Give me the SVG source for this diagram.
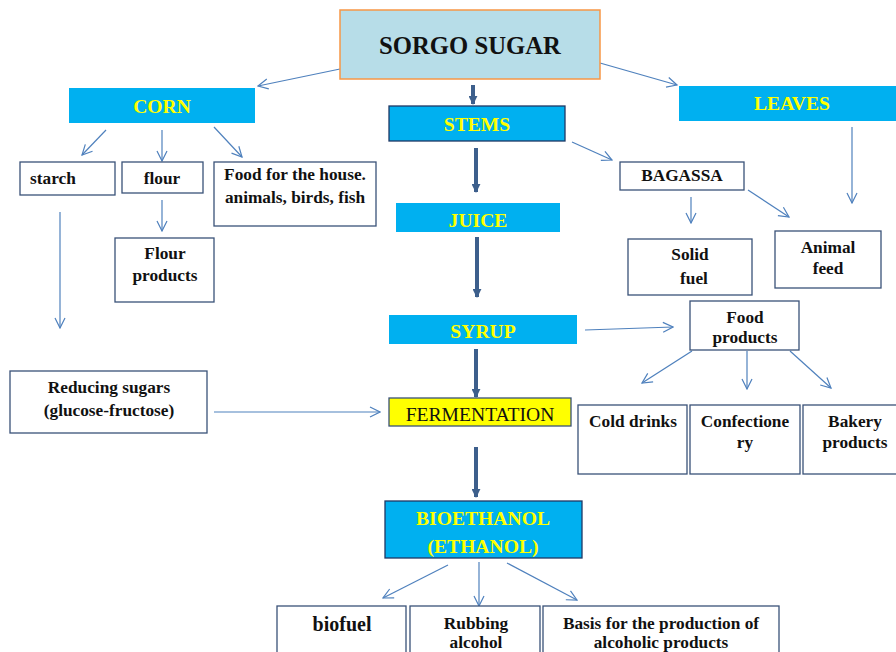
<svg xmlns="http://www.w3.org/2000/svg" width="896" height="652" viewBox="0 0 896 652">
<style>
text{font-family:"Liberation Serif","Times New Roman",serif;font-weight:bold;font-size:17.3px;text-anchor:middle;fill:#111}
.y{fill:#ffff00;font-size:19.6px}
.box{fill:#fff;stroke:#3a5278;stroke-width:1.3}
.blue{fill:#00b0f0}
.bs{fill:#00b0f0;stroke:#1f3864;stroke-width:1.3}
.thin{stroke:#4f81bd;stroke-width:1.2;fill:none;marker-end:url(#ah)}
.thick{stroke:#3d5f8c;stroke-width:4;fill:none;marker-end:url(#th)}
</style>
<defs>
<marker id="ah" viewBox="0 0 12 12" refX="11" refY="6" markerWidth="12" markerHeight="12" markerUnits="userSpaceOnUse" orient="auto">
<path d="M1,1 L11,6 L1,11" fill="none" stroke="#4f81bd" stroke-width="1.2"/>
</marker>
<marker id="th" viewBox="0 0 10 10" refX="9" refY="5" markerWidth="9" markerHeight="9" markerUnits="userSpaceOnUse" orient="auto">
<path d="M0,0 L10,5 L0,10 Z" fill="#3d5f8c"/>
</marker>
</defs>
<g id="connectors">
<line class="thin" x1="340" y1="69" x2="258" y2="86"/>
<line class="thin" x1="600" y1="63" x2="677" y2="85"/>
<line class="thin" x1="106" y1="130" x2="82" y2="155"/>
<line class="thin" x1="162" y1="130" x2="162" y2="161"/>
<line class="thin" x1="214" y1="127" x2="242" y2="157"/>
<line class="thin" x1="162" y1="200" x2="162" y2="231"/>
<line class="thin" x1="60" y1="212" x2="60" y2="328"/>
<line class="thin" x1="214" y1="412" x2="380" y2="412"/>
<line class="thin" x1="572" y1="142" x2="612" y2="160"/>
<line class="thin" x1="691" y1="197" x2="691" y2="223"/>
<line class="thin" x1="748" y1="190" x2="789" y2="217"/>
<line class="thin" x1="852" y1="127" x2="852" y2="203"/>
<line class="thin" x1="585" y1="330" x2="673" y2="327"/>
<line class="thin" x1="692" y1="351" x2="642" y2="383"/>
<line class="thin" x1="747" y1="351" x2="747" y2="389"/>
<line class="thin" x1="790" y1="351" x2="831" y2="388"/>
<line class="thin" x1="448" y1="565" x2="383" y2="598"/>
<line class="thin" x1="479" y1="562" x2="479" y2="606"/>
<line class="thin" x1="507" y1="563" x2="577" y2="600"/>
<line class="thick" x1="473" y1="85" x2="473" y2="104"/>
<line class="thick" x1="476" y1="148" x2="476" y2="192"/>
<line class="thick" x1="477" y1="237" x2="477" y2="297"/>
<line class="thick" x1="476" y1="349" x2="476" y2="397"/>
<line class="thick" x1="476" y1="447" x2="476" y2="497"/>
</g>
<g id="sorgo"><rect x="340" y="10" width="260" height="69" fill="#b7dde8" stroke="#f79646" stroke-width="1.5"/><text x="470" y="54" style="font-size:24.7px">SORGO SUGAR</text></g>
<g id="corn"><rect class="blue" x="69" y="88" width="186" height="35"/><text class="y" x="162" y="113">CORN</text></g>
<g id="stems"><rect class="bs" x="389" y="106" width="176" height="35"/><text class="y" x="477" y="131">STEMS</text></g>
<g id="leaves"><rect class="blue" x="679" y="86" width="217" height="35"/><text class="y" x="792" y="110">LEAVES</text></g>
<g id="starch"><rect class="box" x="20" y="162" width="95" height="33"/><text x="53" y="184">starch</text></g>
<g id="flour"><rect class="box" x="122" y="162" width="81" height="31"/><text x="162" y="184">flour</text></g>
<g id="food-house"><rect class="box" x="214" y="162" width="162" height="64"/><text x="295" y="180">Food for the house.</text><text x="295" y="203">animals, birds, fish</text></g>
<g id="flour-products"><rect class="box" x="115" y="238" width="99" height="64"/><text x="165" y="259">Flour</text><text x="165" y="281">products</text></g>
<g id="juice"><rect class="blue" x="396" y="203" width="164" height="29"/><text class="y" x="478" y="227">JUICE</text></g>
<g id="bagassa"><rect class="box" x="620" y="162" width="124" height="28"/><text x="682" y="181">BAGASSA</text></g>
<g id="solid-fuel"><rect class="box" x="628" y="239" width="124" height="56"/><text x="690" y="260">Solid</text><text x="694" y="284">fuel</text></g>
<g id="animal-feed"><rect class="box" x="775" y="231" width="106" height="57"/><text x="828" y="253">Animal</text><text x="828" y="274">feed</text></g>
<g id="syrup"><rect class="blue" x="389" y="315" width="188" height="29"/><text class="y" x="483" y="338">SYRUP</text></g>
<g id="food-products"><rect class="box" x="690" y="301" width="109" height="49"/><text x="745" y="323">Food</text><text x="745" y="343">products</text></g>
<g id="reducing"><rect class="box" x="10" y="371" width="197" height="62"/><text x="109" y="393">Reducing sugars</text><text x="109" y="416">(glucose-fructose)</text></g>
<g id="fermentation"><rect x="389" y="398" width="182" height="28" fill="#ffff00" stroke="#3a5278" stroke-width="1.3"/><text x="480" y="421" style="font-weight:normal;font-size:19.6px">FERMENTATION</text></g>
<g id="cold-drinks"><rect class="box" x="578" y="405" width="109" height="69"/><text x="633" y="427">Cold drinks</text></g>
<g id="confectionery"><rect class="box" x="690" y="405" width="110" height="69"/><text x="745" y="427">Confectione</text><text x="745" y="448">ry</text></g>
<g id="bakery"><rect class="box" x="803" y="405" width="100" height="69"/><text x="855" y="427">Bakery</text><text x="855" y="448">products</text></g>
<g id="bioethanol"><rect class="bs" x="385" y="501" width="197" height="57"/><text class="y" x="483" y="525">BIOETHANOL</text><text class="y" x="483" y="553">(ETHANOL)</text></g>
<g id="biofuel"><rect class="box" x="277" y="606" width="129" height="50"/><text x="342" y="631" style="font-size:20px">biofuel</text></g>
<g id="rubbing"><rect class="box" x="410" y="606" width="130" height="50"/><text x="476" y="629">Rubbing</text><text x="476" y="648">alcohol</text></g>
<g id="basis"><rect class="box" x="543" y="606" width="236" height="50"/><text x="661" y="629">Basis for the production of</text><text x="661" y="648">alcoholic products</text></g>
</svg>
